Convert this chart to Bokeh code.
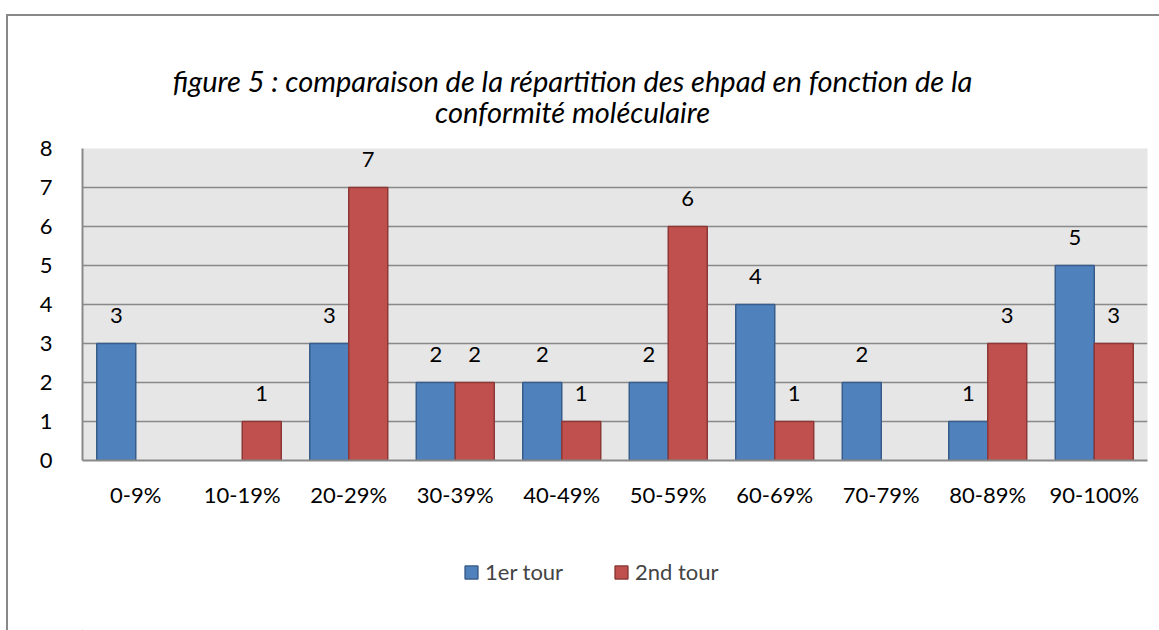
from bokeh.plotting import figure
from bokeh.layouts import column
from bokeh.models import (FactorRange, Range1d, Legend, LegendItem,
                          ColumnDataSource, FixedTicker)
from bokeh.transform import dodge
from bokeh.embed import file_html
from bokeh.resources import INLINE
from bokeh.core.properties import value

categories = ["0-9%", "10-19%", "20-29%", "30-39%", "40-49%",
              "50-59%", "60-69%", "70-79%", "80-89%", "90-100%"]
tour1 = [3, 0, 3, 2, 2, 2, 4, 2, 1, 5]
tour2 = [0, 1, 7, 2, 1, 6, 1, 0, 3, 3]
series_names = ["1er tour", "2nd tour"]
title_lines = ["figure 5 : comparaison de la répartition des ehpad en fonction de la",
               "conformité moléculaire"]
y_ticks = [0, 1, 2, 3, 4, 5, 6, 7, 8]

FONT = "Lato"
BLUE, BLUE_EDGE = "#4f81bd", "#385d8a"
RED, RED_EDGE = "#c0504d", "#8c3836"
GRID = "#898989"
W = 1159
H_TOP, H_MAIN, H_LEG = 133, 397, 100
FRAME_L, FRAME_R = 82, 1147   # frames of the stacked figures are aligned

LEFT_EDGE = f"inset 6px 0 0 0 white, inset 8px 0 0 0 {GRID}"
TOP_LEFT_EDGE = f"inset 6px 14px 0 0 white, inset 8px 16px 0 0 {GRID}"


def blank_fig(h, yr, shadow):
    f = figure(width=W, height=h, x_range=Range1d(FRAME_L, FRAME_R), y_range=yr,
               x_axis_type=None, y_axis_type=None, output_backend="svg",
               toolbar_location=None, min_border=0,
               styles={"box-shadow": shadow})
    f.grid.visible = False
    f.outline_line_color = None
    f.background_fill_alpha = 0
    f.border_fill_alpha = 0
    return f


# ---- title band ----
pt = blank_fig(H_TOP, Range1d(H_TOP, 0), TOP_LEFT_EDGE)
pt.text(x=[572, 572], y=[80, 111], text=title_lines, text_align="center",
        text_baseline="middle", text_font=value(FONT),
        text_font_style="italic", text_font_size="29px", text_color="black")

# ---- main chart ----
p = figure(x_range=FactorRange(*categories, range_padding=0),
           y_range=Range1d(0, 8), width=W, height=H_MAIN,
           output_backend="svg", toolbar_location=None,
           min_border_left=FRAME_L, min_border_right=W - FRAME_R,
           min_border_top=15, min_border_bottom=70,
           styles={"box-shadow": LEFT_EDGE})
p.background_fill_color = "#e6e6e6"
p.border_fill_alpha = 0
p.outline_line_color = None

bw = 0.366
for vals, off, fc, lc in ((tour1, -bw / 2, BLUE, BLUE_EDGE),
                          (tour2, bw / 2, RED, RED_EDGE)):
    cats = [c for c, v in zip(categories, vals) if v != 0]
    vs = [v for v in vals if v != 0]
    s = ColumnDataSource(dict(cat=cats, v=vs, t=[str(v) for v in vs]))
    p.vbar(x=dodge("cat", off, range=p.x_range), top="v", width=bw,
           source=s, fill_color=fc, line_color=lc, line_width=1.5)
    p.text(x=dodge("cat", off, range=p.x_range), y="v", text="t", source=s,
           text_align="center", text_baseline="middle", y_offset=-28,
           text_font=value(FONT), text_font_size="22px", text_color="black")

p.xgrid.grid_line_color = None
p.ygrid.grid_line_color = GRID
p.ygrid.grid_line_width = 1.5
p.ygrid.ticker = FixedTicker(ticks=y_ticks)

for ax in (p.xaxis[0], p.yaxis[0]):
    ax.major_tick_line_color = None
    ax.minor_tick_line_color = None
    ax.axis_line_color = GRID
    ax.axis_line_width = 2
    ax.major_label_text_font = FONT
    ax.major_label_text_font_size = "22px"
    ax.major_label_text_color = "black"
p.yaxis[0].ticker = FixedTicker(ticks=y_ticks)
p.yaxis[0].major_label_standoff = 24
p.xaxis[0].major_label_standoff = 14

# ---- legend band (swatch glyphs sit outside the visible range) ----
pl = blank_fig(H_LEG, Range1d(0, 1), LEFT_EDGE)
swatch = ColumnDataSource(dict(x=[-1000], top=[-5], bottom=[-6]))
lr1 = pl.vbar(x="x", top="top", bottom="bottom", width=1, source=swatch,
              fill_color=BLUE, line_color=BLUE_EDGE, line_width=1.5)
lr2 = pl.vbar(x="x", top="top", bottom="bottom", width=1, source=swatch,
              fill_color=RED, line_color=RED_EDGE, line_width=1.5)
legend = Legend(items=[LegendItem(label=series_names[0], renderers=[lr1]),
                       LegendItem(label=series_names[1], renderers=[lr2])],
                orientation="horizontal", location=(463 - FRAME_L, 45),
                glyph_width=16, glyph_height=16, label_standoff=6, spacing=40,
                label_width=88, padding=0, margin=0,
                border_line_color=None, background_fill_alpha=0,
                label_text_font=FONT, label_text_font_size="22px",
                label_height=22)
pl.add_layout(legend, "center")

layout = column(pt, p, pl, spacing=0)
open("out.html", "w").write(file_html(layout, INLINE))
